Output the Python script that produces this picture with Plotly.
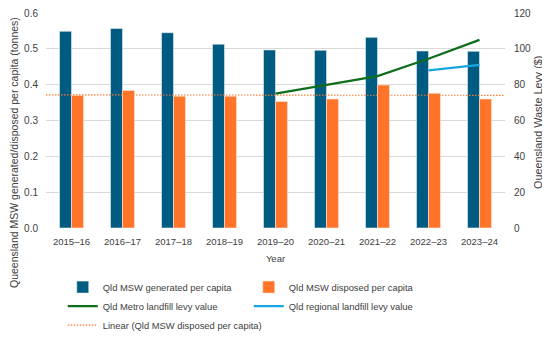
import numpy as np
import plotly.graph_objects as go

years = ["2015–16", "2016–17", "2017–18", "2018–19", "2019–20",
         "2020–21", "2021–22", "2022–23", "2023–24"]
generated = [0.549, 0.557, 0.545, 0.513, 0.497, 0.496, 0.532, 0.494, 0.493]
disposed = [0.370, 0.384, 0.368, 0.368, 0.353, 0.360, 0.399, 0.376, 0.360]
metro_years = ["2019–20", "2020–21", "2021–22", "2022–23", "2023–24"]
metro_levy = [75.0, 80.0, 84.8, 94.5, 105.0]
regional_years = ["2022–23", "2023–24"]
regional_levy = [88.0, 91.0]

FONT = "Liberation Sans"
TXT = "#404040"

# linear trendline of disposed per capita (Excel-style)
xi = np.arange(len(disposed))
slope, intercept = np.polyfit(xi, disposed, 1)
trend_x = [-0.5, len(disposed) - 0.5]
trend_y = [intercept + slope * v for v in trend_x]

fig = go.Figure()
fig.add_trace(go.Bar(x=xi, y=generated, name="Qld MSW generated per capita",
                     marker=dict(color="#005B82", line=dict(color="#E8F0F4", width=0.6)),
                     yaxis="y"))
fig.add_trace(go.Bar(x=xi, y=disposed, name="Qld MSW disposed per capita",
                     marker=dict(color="#FF7428", line=dict(color="#FFE8DA", width=0.6)),
                     yaxis="y"))
fig.add_trace(go.Scatter(x=[years.index(y) for y in metro_years], y=metro_levy,
                         name="Qld Metro landfill levy value", mode="lines",
                         line=dict(color="#0E6E1C", width=2.2), yaxis="y2"))
fig.add_trace(go.Scatter(x=[years.index(y) for y in regional_years], y=regional_levy,
                         name="Qld regional landfill levy value", mode="lines",
                         line=dict(color="#17A6E2", width=2.2), yaxis="y2"))
fig.add_trace(go.Scatter(x=trend_x, y=trend_y, name="Linear (Qld MSW disposed per capita)",
                         mode="lines", line=dict(color="#FF7A30", width=1.1, dash="1.5px,1.5px"),
                         yaxis="y"))

W, H = 542, 329
T, PH = 5, 215
fig.update_layout(
    width=W, height=H,
    margin=dict(l=38, r=45, t=T, b=H - T - PH, autoexpand=False),
    paper_bgcolor="white", plot_bgcolor="white",
    font=dict(family=FONT, size=10, color=TXT),
    barmode="group", bargap=0.53, bargroupgap=0,
    hovermode=False,
    xaxis=dict(tickmode="array", tickvals=list(xi), ticktext=years,
               range=[-0.5, len(years) - 0.5], showgrid=False, zeroline=False,
               showline=False, ticks="", tickfont=dict(size=9.5, color=TXT),
               automargin=False, ticklabelstandoff=6,
               title=dict(text="Year", font=dict(size=9.5, color=TXT), standoff=9)),
    yaxis=dict(range=[0, 0.6], dtick=0.1, tickformat=".1f", showgrid=True,
               gridcolor="#D9D9D9", gridwidth=1, zeroline=False, showline=False,
               ticks="", tickfont=dict(size=10, color=TXT), automargin=False,
               ticklabelstandoff=7, ticklabeloverflow="allow"),
    yaxis2=dict(range=[0, 120], dtick=20, overlaying="y", side="right",
                showgrid=False, zeroline=False, showline=False, ticks="",
                tickfont=dict(size=10, color=TXT), automargin=False,
                ticklabelstandoff=8, ticklabeloverflow="allow"),
    legend=dict(orientation="h", xref="container", x=54.75 / W, xanchor="left",
                yref="container", y=1 - 264.6 / H, yanchor="top",
                entrywidth=141, entrywidthmode="pixels", traceorder="normal",
                font=dict(size=9.4, color=TXT), itemwidth=30, tracegroupgap=0),
    showlegend=True,
    annotations=[
        dict(text="Queensland MSW generated/disposed per capita (tonnes)",
             xref="paper", yref="paper", x=0, y=(T + PH - 145) / PH,
             xshift=-32, textangle=-90, showarrow=False,
             font=dict(size=10.5, color=TXT), xanchor="center", yanchor="middle"),
        dict(text="Queensland Waste Levy ($)",
             xref="paper", yref="paper", x=1, y=(T + PH - 115) / PH,
             xshift=33, textangle=-90, showarrow=False,
             font=dict(size=10.8, color=TXT), xanchor="center", yanchor="middle"),
    ],
)

fig.write_html("out.html", config={"displayModeBar": False})
